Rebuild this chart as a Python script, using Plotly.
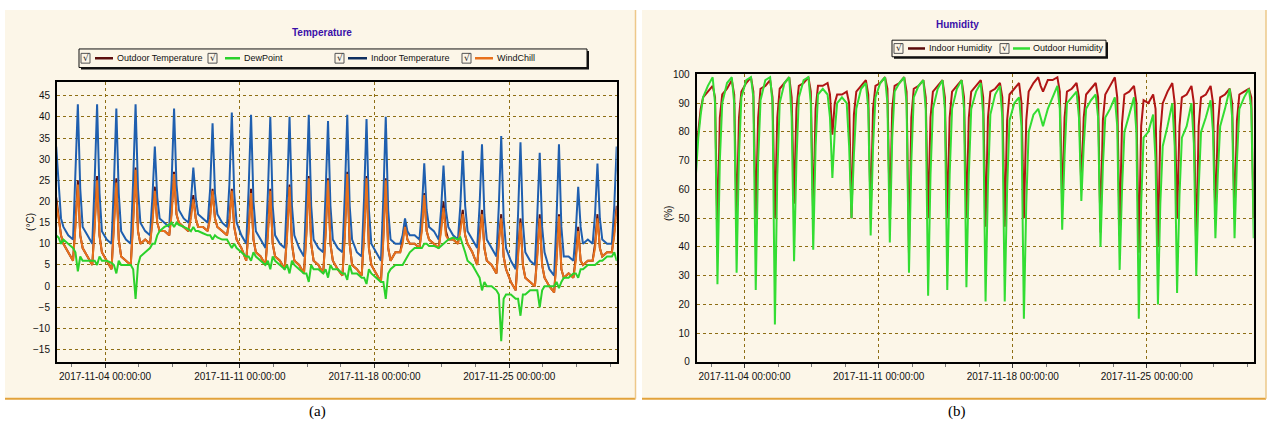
import plotly.graph_objects as go

W, H = 1272, 435

# ---------------- data ----------------
DAYS = [f"2017-11-{i:02d}" for i in range(1, 31)]
HOURS = [2, 8, 11, 14, 17, 20]
TIMES = [f"{d} {h:02d}:00" for d in DAYS for h in HOURS]

X_RANGE = ["2017-11-01 12:00", "2017-11-30 14:00"]
X_TICKS = ["2017-11-04", "2017-11-11", "2017-11-18", "2017-11-25"]
X_TICK_TEXT = ["2017-11-04 00:00:00", "2017-11-11 00:00:00",
               "2017-11-18 00:00:00", "2017-11-25 00:00:00"]
T_TICKS = [45, 40, 35, 30, 25, 20, 15, 10, 5, 0, -5, -10, -15]
H_TICKS = [100, 90, 80, 70, 60, 50, 40, 30, 20, 10, 0]

# Indoor temperature (°C), 6 samples/day at 02,08,11,14,17,20 h
INDOOR_T = [
    14, 12, 33, 24, 16, 14,
    12, 11, 25, 43, 23, 14,
    12, 10, 25, 43, 22, 13,
    11, 10, 24, 42, 22, 13,
    11, 10, 25, 43, 23, 15,
    13, 12, 21, 33, 21, 16,
    15, 14, 25, 42, 24, 18,
    16, 15, 20, 28, 21, 17,
    16, 15, 23, 38.5, 22, 17,
    15, 14, 24, 41, 22, 15,
    12, 10, 23, 40.5, 20, 13,
    11, 9, 22, 40, 19, 12,
    10, 9, 22, 40, 19, 12,
    9, 7, 22, 40.5, 19, 11,
    9, 8, 22, 39, 19, 11,
    9, 8, 22, 40.5, 19, 11,
    8, 7, 21, 39.5, 18, 10,
    8, 6, 21, 40, 18, 11,
    10, 10, 12, 16, 13, 12,
    12, 11, 18, 29, 18, 14,
    13, 11, 18, 28.5, 18, 14,
    12, 11, 19, 32, 19, 13,
    11, 9, 19, 33.5, 17, 11,
    9, 7, 19, 35.5, 16, 9,
    6, 4, 17, 34, 15, 8,
    6, 5, 17, 31.5, 14, 8,
    4, 2.5, 16, 33.5, 14, 7,
    7, 6, 13, 23.5, 14, 10,
    11, 10, 17, 29, 16, 11,
    10, 10, 19, 33, 20, 14,
]

# WindChill (°C)
WINDCHILL = [
    12, 11, 20, 16, 12, 10,
    8, 6, 14, 24, 12, 9,
    7, 5, 14, 25, 12, 8,
    6, 4, 14, 24.5, 11, 7,
    6, 5, 15, 27.5, 13, 10,
    11, 10, 15, 22.5, 15, 13,
    13, 12, 17, 26.5, 17, 15,
    14, 13, 16, 20.5, 16, 14,
    14, 13, 16, 22.5, 16, 14,
    13, 12, 15, 22.5, 14, 11,
    9, 6, 13, 22, 11, 8,
    7, 5, 12, 22.5, 10, 7,
    6, 4, 12, 23.5, 10, 6,
    5, 3, 12, 25.5, 10, 6,
    5, 3, 12, 25, 10, 6,
    4, 2.5, 12, 26.5, 10, 5,
    4, 2.5, 12, 25.5, 9, 5,
    3, 1, 11, 25, 9, 6,
    8, 8, 10, 14, 11, 10,
    10, 9, 13, 21.5, 13, 11,
    10, 9, 13, 18.5, 12, 11,
    11, 10, 13, 17, 12, 10,
    8, 5, 11, 17, 9, 6,
    5, 3, 10, 16, 7, 4,
    1, -1, 7, 15, 5, 2,
    1, 0, 7, 16, 5, 2,
    0, -1.5, 6, 16.5, 4, 2,
    3, 2, 6, 13, 6, 5,
    6, 6, 9, 16, 9, 7,
    8, 8, 12, 18, 14, 11,
]

# Outdoor temperature (°C) – mostly hidden beneath WindChill
OUTDOOR_T = [
    12, 11, 21, 17, 12, 10,
    8, 6, 15, 25, 12, 9,
    7, 5, 15, 26, 12, 8,
    6, 4, 15, 25.5, 11, 7,
    6, 5, 16, 28, 13, 10,
    11, 10, 16, 23.5, 15, 13,
    13, 12, 18, 27, 17, 15,
    14, 13, 17, 21.5, 16, 14,
    14, 13, 17, 23, 16, 14,
    13, 12, 16, 23, 14, 11,
    9, 6, 14, 23, 11, 8,
    7, 5, 13, 23, 10, 7,
    6, 4, 13, 24, 10, 6,
    5, 3, 13, 26, 10, 6,
    5, 3, 13, 25.5, 10, 6,
    4, 2.5, 13, 27, 10, 5,
    4, 2.5, 13, 26, 9, 5,
    3, 1, 12, 25.5, 9, 6,
    8, 8, 11, 15, 11, 10,
    10, 9, 14, 22, 13, 11,
    10, 9, 14, 20, 13, 11,
    11, 10, 14, 18, 12, 10,
    8, 5, 12, 18, 9, 6,
    5, 3, 11, 17, 7, 4,
    1, -1, 8, 16, 5, 2,
    1, 0, 8, 17, 5, 2,
    0, -1.5, 7, 17, 4, 2,
    3, 2, 7, 14, 6, 5,
    6, 6, 10, 17, 9, 7,
    8, 8, 13, 19, 14, 11,
]

# DewPoint (°C)
DEWPOINT = [
    12, 12, 12, 11.5, 10, 11,
    10, 9, 8, 3.5, 7, 6,
    6, 6, 6, 5, 7, 6,
    6, 5.5, 5, 3, 6, 5,
    5, 5, 4, -3, 5, 7,
    8, 9, 10, 10, 12, 13,
    14, 14.5, 15, 14, 15, 14.5,
    14, 13.5, 13, 14, 13, 13,
    12.5, 12, 12, 11, 12, 11.5,
    11, 11, 10, 9, 10, 9,
    8, 7, 7, 6, 8, 7,
    6, 5, 6, 4, 7, 6,
    5, 4, 5, 3, 6, 5,
    4, 3, 3, 1, 5, 4,
    4, 3, 4, 2, 5, 4,
    4, 3, 3, 1.5, 5, 3,
    3, 2, 2, 0.5, 4, 3,
    2, 1, 1, -3, 3, 4,
    5, 5, 5, 6, 7, 8,
    9, 9, 9, 10, 10, 9.5,
    9.5, 9, 9.5, 10, 10.5, 11,
    11.5, 11, 11.5, 10, 8, 6,
    5, 3, 2, -1, 1, 0,
    0, -1, -2, -13, -3, -2,
    -2, -3, -3, -7, -2, -2,
    -1, -1, -1, -5, -1, 0,
    0, 0, 1, -0.5, 1, 2,
    2, 3, 3, 2, 4, 4,
    5, 5, 5, 5.5, 6, 6,
    7, 7, 8, 6, 7, 7,
]

# Indoor humidity (%)
INDOOR_H = [
    90, 92, 75, 80, 88, 92,
    94, 96, 92, 45, 85, 93,
    95, 98, 93, 48, 85, 94,
    97, 99, 94, 50, 85, 95,
    96, 98, 92, 50, 85, 95,
    97, 99, 92, 55, 88, 96,
    97, 99, 94, 50, 88, 96,
    96, 97, 93, 79, 90, 93,
    93, 94, 90, 50, 86, 94,
    96, 98, 93, 50, 88, 96,
    97, 99, 95, 50, 88, 96,
    97, 99, 94, 38, 85, 95,
    96, 98, 92, 50, 85, 94,
    96, 98, 92, 50, 85, 94,
    96, 98, 92, 50, 85, 94,
    96, 98, 92, 47, 85, 94,
    95, 97, 92, 47, 84, 93,
    95, 97, 90, 50, 84, 94,
    97, 99, 96, 94, 96, 98,
    98, 99, 94, 55, 85, 94,
    95, 97, 92, 60, 85, 93,
    95, 97, 92, 45, 84, 93,
    96, 99, 92, 44, 83, 93,
    94, 96, 90, 38, 82, 91,
    90, 93, 88, 40, 80, 90,
    94, 97, 90, 50, 82, 92,
    93, 96, 90, 38, 82, 92,
    93, 96, 90, 50, 82, 92,
    93, 95, 90, 50, 84, 93,
    94, 95, 92, 50, 85, 92,
]

# Outdoor humidity (%)
OUTDOOR_H = [
    95, 97, 65, 78, 86, 92,
    96, 99, 90, 27, 70, 90,
    97, 99, 90, 31, 72, 92,
    98, 99, 92, 25, 70, 91,
    98, 99, 90, 13, 65, 90,
    97, 99, 85, 35, 70, 92,
    98, 99, 90, 39, 75, 93,
    95, 93, 85, 64, 80, 90,
    92, 90, 75, 50, 72, 88,
    95, 97, 88, 44, 75, 92,
    97, 99, 90, 41.5, 78, 94,
    97, 99, 90, 31, 70, 92,
    96, 98, 88, 23, 65, 88,
    95, 98, 88, 25, 65, 88,
    95, 98, 88, 26, 65, 88,
    94, 97, 86, 21, 62, 86,
    93, 96, 85, 21, 60, 84,
    90, 92, 82, 15, 55, 80,
    86, 88, 85, 82, 85, 88,
    92, 96, 88, 46, 72, 90,
    92, 94, 85, 56, 75, 88,
    91, 93, 85, 40, 68, 85,
    88, 92, 82, 32, 60, 80,
    86, 92, 80, 15, 55, 78,
    80, 86, 70, 20, 55, 75,
    82, 90, 75, 24, 58, 78,
    82, 90, 76, 30, 60, 80,
    85, 91, 80, 43, 65, 82,
    88, 95, 85, 43, 70, 88,
    92, 95, 88, 43, 65, 85,
]

# ---------------- styling ----------------
CREAM = "#FCF6E8"
GRID = "#8E6E14"
TICKFONT = dict(family="Liberation Sans Narrow, Arial Narrow, Liberation Sans, sans-serif",
                size=10, color="#111")
C_OUT_T = "#5C0F0F"
C_DEW = "#2BD12B"
C_IN_T = "#1F5FAF"
C_WIND = "#E8711C"
C_IN_H = "#B01515"
C_OUT_H = "#33DD33"


def px(x):
    return x / W


def py(y):
    return 1 - y / H


fig = go.Figure()

# temperature panel traces
fig.add_trace(go.Scatter(x=TIMES, y=OUTDOOR_T, mode="lines", line=dict(color=C_OUT_T, width=2),
                         xaxis="x", yaxis="y", name="Outdoor Temperature"))
fig.add_trace(go.Scatter(x=TIMES, y=INDOOR_T, mode="lines", line=dict(color=C_IN_T, width=2),
                         xaxis="x", yaxis="y", name="Indoor Temperature"))
fig.add_trace(go.Scatter(x=TIMES, y=WINDCHILL, mode="lines", line=dict(color=C_WIND, width=2),
                         xaxis="x", yaxis="y", name="WindChill"))
fig.add_trace(go.Scatter(x=TIMES, y=DEWPOINT, mode="lines", line=dict(color=C_DEW, width=2),
                         xaxis="x", yaxis="y", name="DewPoint"))
# humidity panel traces
fig.add_trace(go.Scatter(x=TIMES, y=INDOOR_H, mode="lines", line=dict(color=C_IN_H, width=2),
                         xaxis="x2", yaxis="y2", name="Indoor Humidity"))
fig.add_trace(go.Scatter(x=TIMES, y=OUTDOOR_H, mode="lines", line=dict(color=C_OUT_H, width=2),
                         xaxis="x2", yaxis="y2", name="Outdoor Humidity"))

xcommon = dict(type="date", range=X_RANGE, tickmode="array", tickvals=X_TICKS,
               ticktext=X_TICK_TEXT, showgrid=True, gridcolor=GRID, griddash="dot",
               gridwidth=1.3, showline=True, mirror=True, linecolor="black", linewidth=2,
               ticks="outside", ticklen=4, tickcolor="#333", tickfont=TICKFONT,
               zeroline=False, fixedrange=True,
               minor=dict(ticks="outside", ticklen=3, tickcolor="#777",
                          tick0="2017-11-04", dtick=151200000, showgrid=False))
ycommon = dict(showgrid=True, gridcolor=GRID, griddash="dot", gridwidth=1.3,
               showline=True, mirror=True, linecolor="black", linewidth=2,
               ticks="", tickfont=TICKFONT, zeroline=False, tickmode="array",
               ticklabelstandoff=3, fixedrange=True)

fig.update_layout(
    width=W, height=H, margin=dict(l=0, r=0, t=0, b=0),
    paper_bgcolor="white", plot_bgcolor=CREAM, showlegend=False,
    xaxis=dict(domain=[px(57), px(616.7)], anchor="y", **xcommon),
    yaxis=dict(domain=[py(365.7), py(79)], anchor="x", range=[-18, 48.2],
               tickvals=T_TICKS, **ycommon),
    xaxis2=dict(domain=[px(696.7), px(1253.7)], anchor="y2", **xcommon),
    yaxis2=dict(domain=[py(365.3), py(71)], anchor="x2", range=[0, 100],
                tickvals=H_TICKS, **ycommon),
)

shapes = []
annotations = []

# panels
for (x0, x1) in [(5, 635.5), (642, 1266)]:
    shapes.append(dict(type="rect", xref="paper", yref="paper", layer="below",
                       x0=px(x0), x1=px(x1), y0=py(403), y1=py(5),
                       fillcolor=CREAM, line=dict(width=0)))
    shapes.append(dict(type="line", xref="paper", yref="paper", layer="below",
                       x0=px(x0), x1=px(x1), y0=py(403), y1=py(403),
                       line=dict(color="#E2A23A", width=2)))
    shapes.append(dict(type="line", xref="paper", yref="paper", layer="below",
                       x0=px(x1), x1=px(x1), y0=py(403), y1=py(5),
                       line=dict(color="#EDC88A", width=1.5)))


def legend_box(x0, x1, y0, y1):
    shapes.append(dict(type="rect", xref="paper", yref="paper",
                       x0=px(x0 + 2), x1=px(x1 + 2), y0=py(y1 + 2), y1=py(y0 + 2),
                       fillcolor="#111", line=dict(width=0)))
    shapes.append(dict(type="rect", xref="paper", yref="paper",
                       x0=px(x0), x1=px(x1), y0=py(y1), y1=py(y0),
                       fillcolor=CREAM, line=dict(color="#111", width=1)))


def legend_entry(cb, lx0, lx1, tx, yc, text, color):
    shapes.append(dict(type="rect", xref="paper", yref="paper",
                       x0=px(cb), x1=px(cb + 9), y0=py(yc + 5), y1=py(yc - 5),
                       fillcolor=CREAM, line=dict(color="#555", width=1)))
    annotations.append(dict(xref="paper", yref="paper", x=px(cb + 4.5), y=py(yc),
                            text="√", showarrow=False, xanchor="center", yanchor="middle",
                            font=dict(family="DejaVu Sans", size=9, color="#222")))
    shapes.append(dict(type="line", xref="paper", yref="paper",
                       x0=px(lx0), x1=px(lx1), y0=py(yc), y1=py(yc),
                       line=dict(color=color, width=2.5)))
    annotations.append(dict(xref="paper", yref="paper", x=px(tx), y=py(yc),
                            text=text, showarrow=False, xanchor="left", yanchor="middle",
                            font=dict(family="Liberation Sans, sans-serif", size=9, color="#111")))


legend_box(79, 587, 45, 64)
legend_entry(81, 95, 113, 115, 54.5, "Outdoor Temperature", C_OUT_T)
legend_entry(208, 225, 240, 242, 54.5, "DewPoint", C_DEW)
legend_entry(335, 348, 367, 369, 54.5, "Indoor Temperature", "#0F2F5F")
legend_entry(462, 475, 493, 495, 54.5, "WindChill", C_WIND)

legend_box(892, 1106, 36, 53)
legend_entry(894, 908, 925, 927, 44.5, "Indoor Humidity", "#5A0A0A")
legend_entry(1000, 1013, 1030, 1031, 44.5, "Outdoor Humidity", C_OUT_H)

# titles
annotations.append(dict(xref="paper", yref="paper", x=px(322), y=py(28), text="<b>Temperature</b>",
                        showarrow=False, xanchor="center", yanchor="middle",
                        font=dict(family="Liberation Sans Narrow, Liberation Sans", size=10, color="#3A10A8")))
annotations.append(dict(xref="paper", yref="paper", x=px(957), y=py(20), text="<b>Humidity</b>",
                        showarrow=False, xanchor="center", yanchor="middle",
                        font=dict(family="Liberation Sans Narrow, Liberation Sans", size=10, color="#3A10A8")))
# axis titles
annotations.append(dict(xref="paper", yref="paper", x=px(31), y=py(222), text="(°C)",
                        textangle=-90, showarrow=False, xanchor="center", yanchor="middle",
                        font=TICKFONT))
annotations.append(dict(xref="paper", yref="paper", x=px(668), y=py(213), text="(%)",
                        textangle=-90, showarrow=False, xanchor="center", yanchor="middle",
                        font=TICKFONT))
# captions
annotations.append(dict(xref="paper", yref="paper", x=px(317), y=py(416), text="(a)",
                        showarrow=False, xanchor="center", yanchor="middle",
                        font=dict(family="Liberation Serif, serif", size=15, color="black")))
annotations.append(dict(xref="paper", yref="paper", x=px(957), y=py(416), text="(b)",
                        showarrow=False, xanchor="center", yanchor="middle",
                        font=dict(family="Liberation Serif, serif", size=15, color="black")))

fig.update_layout(shapes=shapes, annotations=annotations)
fig.write_html("out.html", config={"displayModeBar": False},
               post_script="document.body.style.margin='0';document.body.style.padding='0';")
